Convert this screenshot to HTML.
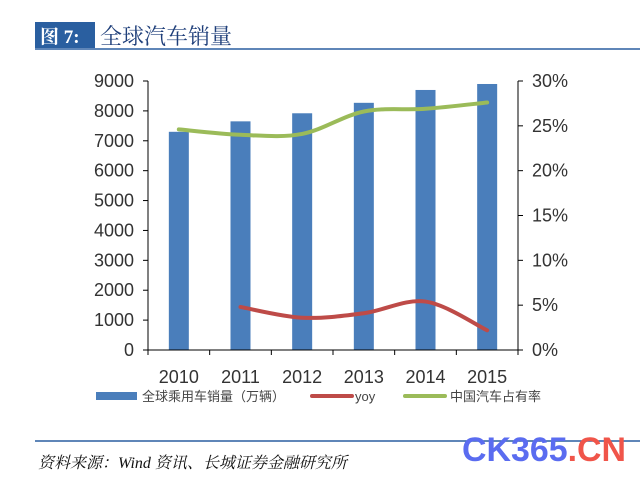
<!DOCTYPE html>
<html><head><meta charset="utf-8"><style>
body{margin:0;background:#fff;width:640px;height:483px;overflow:hidden;font-family:"Liberation Sans","Noto Sans CJK SC",sans-serif}
</style></head><body>
<svg width="640" height="483" xmlns="http://www.w3.org/2000/svg">
<rect x="35" y="22" width="60" height="26" fill="#2a5fa0"/>
<text x="40" y="43" font-size="19" font-weight="bold" fill="#fff" font-family="Liberation Serif,Noto Serif CJK SC,serif">图 7:</text>
<text x="100" y="44" font-size="22" fill="#1f3f7a" font-family="Liberation Serif,Noto Serif CJK SC,serif">全球汽车销量</text>
<line x1="35" y1="49" x2="640" y2="49" stroke="#2a5fa0" stroke-width="1.5"/>
<g id="plot"></g>
<rect x="96" y="392" width="41" height="8" fill="#4a7ebb"/>
<text x="142" y="401" font-size="13" fill="#444">全球乘用车销量（万辆）</text>
<line x1="312" y1="396" x2="352" y2="396" stroke="#be4b48" stroke-width="4" stroke-linecap="round"/>
<text x="355" y="401" font-size="13" fill="#444">yoy</text>
<line x1="405" y1="396" x2="445" y2="396" stroke="#9bbb59" stroke-width="4" stroke-linecap="round"/>
<text x="450" y="401" font-size="13" fill="#444">中国汽车占有率</text>
<line x1="35" y1="441" x2="640" y2="441" stroke="#2a5fa0" stroke-width="1.5"/>
<text x="38" y="468" font-size="16" font-style="italic" fill="#111" font-family="Liberation Serif,Noto Serif CJK SC,serif">资料来源：Wind 资讯、长城证券金融研究所</text>
<text x="462" y="461" font-size="34" font-weight="bold" fill="#5a6cf0" textLength="164" lengthAdjust="spacingAndGlyphs">CK365<tspan fill="#f0554a">.CN</tspan></text>
</svg>
<script>
const years=["2010","2011","2012","2013","2014","2015"];
const sales=[7300,7650,7920,8270,8700,8900];
const yoyYears=["2011","2012","2013","2014","2015"];
const yoy=[4.8,3.6,4.1,5.4,2.2];
const share=[24.6,24.0,24.1,26.6,26.9,27.6];
const leftTicks=[0,1000,2000,3000,4000,5000,6000,7000,8000,9000];
const rightTicks=[0,5,10,15,20,25,30];
const NS="http://www.w3.org/2000/svg";
const g=document.getElementById('plot');
const X0=148,X1=518,Y0=350,Y1=81;
const bw=(X1-X0)/years.length;
const xc=c=>X0+bw*(years.indexOf(c)+0.5);
const yl=v=>Y0-(v/9000)*(Y0-Y1);
const yr=v=>Y0-(v/30)*(Y0-Y1);
function mk(t,a){const e=document.createElementNS(NS,t);for(const k in a)e.setAttribute(k,a[k]);g.appendChild(e);return e;}
sales.forEach((v,i)=>{const r=mk('rect',{x:xc(years[i])-10,y:yl(v),width:20,height:Y0-yl(v),fill:'#4a7ebb'});

});
let a=mk('line',{x1:X0,y1:Y1,x2:X0,y2:Y0,stroke:'#000'});


a=mk('line',{x1:X0,y1:Y0,x2:X1,y2:Y0,stroke:'#000'});


a=mk('line',{x1:X1,y1:Y1,x2:X1,y2:Y0,stroke:'#000'});


leftTicks.forEach(v=>{mk('line',{x1:X0-5,x2:X0,y1:yl(v),y2:yl(v),stroke:'#000'});
const t=mk('text',{x:X0-14,y:yl(v)+6,'font-size':18,'text-anchor':'end',fill:'#333'});t.textContent=v;

});
rightTicks.forEach(v=>{mk('line',{x1:X1,x2:X1+5,y1:yr(v),y2:yr(v),stroke:'#000'});
const t=mk('text',{x:X1+14,y:yr(v)+6,'font-size':18,fill:'#333'});t.textContent=v+'%';

});
for(let i=0;i<=years.length;i++){mk('line',{x1:X0+bw*i,x2:X0+bw*i,y1:Y0,y2:Y0+5,stroke:'#000'});}
years.forEach(c=>{const t=mk('text',{x:xc(c),y:Y0+33,'font-size':18,'text-anchor':'middle',fill:'#333'});t.textContent=c;

});
function smooth(pts){let d='M'+pts[0][0]+','+pts[0][1];for(let i=0;i<pts.length-1;i++){const p0=pts[i-1]||pts[i],p1=pts[i],p2=pts[i+1],p3=pts[i+2]||p2;
d+=` C${p1[0]+(p2[0]-p0[0])/6},${p1[1]+(p2[1]-p0[1])/6} ${p2[0]-(p3[0]-p1[0])/6},${p2[1]-(p3[1]-p1[1])/6} ${p2[0]},${p2[1]}`;}return d;}
let p=mk('path',{d:smooth(share.map((v,i)=>[xc(years[i]),yr(v)])),fill:'none',stroke:'#9bbb59','stroke-width':4,'stroke-linecap':'round'});


p=mk('path',{d:smooth(yoy.map((v,i)=>[xc(yoyYears[i]),yr(v)])),fill:'none',stroke:'#be4b48','stroke-width':4,'stroke-linecap':'round'});


</script>
</body></html>
